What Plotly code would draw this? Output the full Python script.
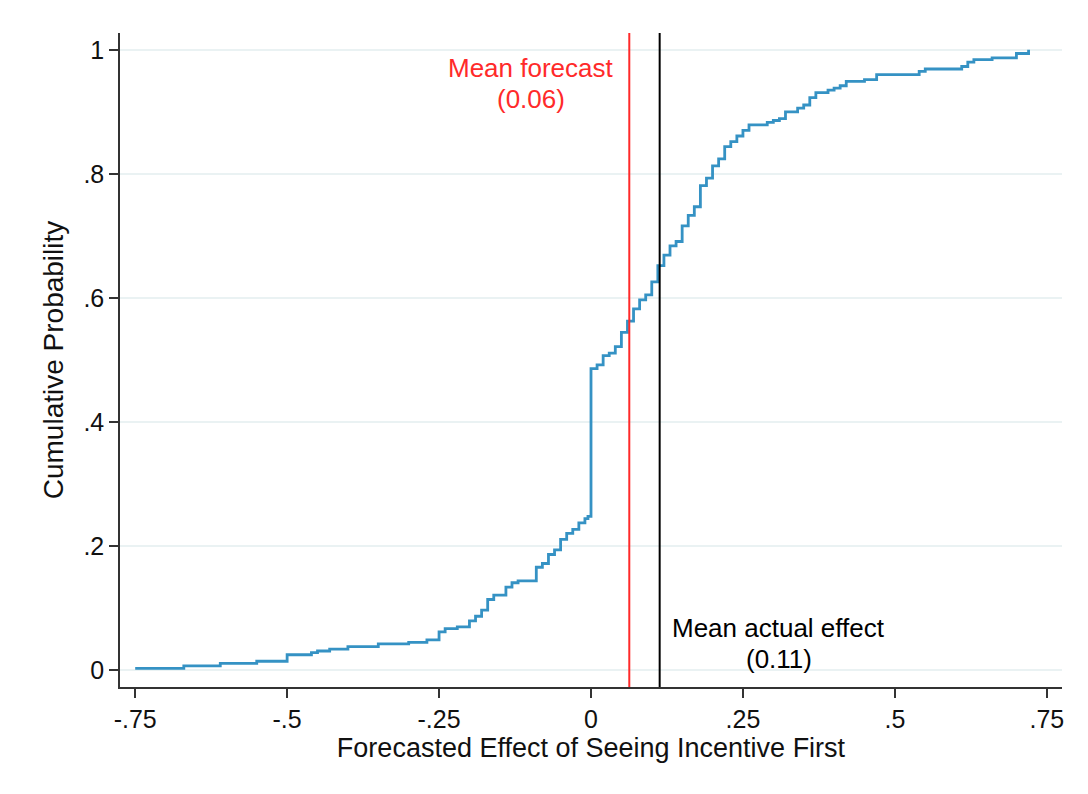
import plotly.graph_objects as go

# ECDF of forecasted effects
forecast_x = [-0.75, -0.67, -0.61, -0.55, -0.50, -0.46, -0.45, -0.43, -0.40, -0.35,
              -0.30, -0.27, -0.25, -0.24, -0.22, -0.20, -0.19, -0.18, -0.17, -0.16,
              -0.14, -0.13, -0.12, -0.09, -0.08, -0.07, -0.06, -0.05, -0.04, -0.03,
              -0.02, -0.01, -0.005, 0.00, 0.01, 0.02, 0.03, 0.04, 0.05, 0.06,
              0.07, 0.08, 0.09, 0.10, 0.11, 0.12, 0.13, 0.14, 0.15, 0.16,
              0.17, 0.18, 0.19, 0.20, 0.21, 0.22, 0.23, 0.24, 0.25, 0.26,
              0.29, 0.30, 0.31, 0.32, 0.34, 0.35, 0.36, 0.37, 0.39, 0.40,
              0.41, 0.42, 0.45, 0.47, 0.54, 0.55, 0.61, 0.62, 0.63, 0.66,
              0.70, 0.72]
cum_prob = [0.003, 0.007, 0.011, 0.0145, 0.025, 0.0285, 0.031, 0.034, 0.038, 0.0425,
            0.045, 0.049, 0.062, 0.067, 0.070, 0.0795, 0.087, 0.097, 0.114, 0.121,
            0.134, 0.141, 0.144, 0.166, 0.172, 0.1865, 0.194, 0.211, 0.2205, 0.227,
            0.2375, 0.2445, 0.248, 0.486, 0.492, 0.507, 0.511, 0.5215, 0.5445, 0.5625,
            0.5825, 0.597, 0.605, 0.626, 0.652, 0.669, 0.684, 0.691, 0.716, 0.733,
            0.747, 0.781, 0.793, 0.813, 0.824, 0.844, 0.852, 0.861, 0.870, 0.879,
            0.883, 0.886, 0.889, 0.900, 0.906, 0.911, 0.923, 0.931, 0.935, 0.938,
            0.942, 0.949, 0.952, 0.960, 0.965, 0.969, 0.973, 0.980, 0.984, 0.987,
            0.994, 1.000]

mean_forecast = 0.063
mean_actual = 0.113

x_tickvals = [-0.75, -0.5, -0.25, 0, 0.25, 0.5, 0.75]
x_ticktext = ["-.75", "-.5", "-.25", "0", ".25", ".5", ".75"]
y_tickvals = [0, 0.2, 0.4, 0.6, 0.8, 1]
y_ticktext = ["0", ".2", ".4", ".6", ".8", "1"]

FONT = "Liberation Sans, Arial, Helvetica, sans-serif"
XR = [-0.775, 0.775]
YR = [-0.027, 1.027]
RED = "#FF2A2A"
TXT = "#111111"

fig = go.Figure()

fig.add_trace(go.Scatter(
    x=forecast_x, y=cum_prob, mode="lines",
    line=dict(color="#3592C4", width=2.8, shape="hv"),
    showlegend=False, hoverinfo="skip"))

fig.add_trace(go.Scatter(
    x=[mean_forecast, mean_forecast], y=YR, mode="lines",
    line=dict(color=RED, width=2), showlegend=False, hoverinfo="skip"))
fig.add_trace(go.Scatter(
    x=[mean_actual, mean_actual], y=YR, mode="lines",
    line=dict(color="#000000", width=2), showlegend=False, hoverinfo="skip"))

ann_font = 26
common = dict(xref="x", yref="y", showarrow=False, borderpad=0)
fig.add_annotation(x=-0.099, y=0.970, text="Mean forecast",
                   font=dict(family=FONT, size=ann_font, color=RED), **common)
fig.add_annotation(x=-0.099, y=0.920, text=f"({mean_forecast:.2f})",
                   font=dict(family=FONT, size=ann_font, color=RED), **common)
fig.add_annotation(x=0.309, y=0.068, text="Mean actual effect",
                   font=dict(family=FONT, size=ann_font, color="#000000"), **common)
fig.add_annotation(x=0.309, y=0.018, text=f"({mean_actual:.2f})",
                   font=dict(family=FONT, size=ann_font, color="#000000"), **common)

fig.update_layout(
    width=1088, height=794,
    margin=dict(l=112, r=34, t=25, b=115),
    paper_bgcolor="white", plot_bgcolor="white",
    font=dict(family=FONT, size=25, color=TXT),
    xaxis=dict(
        range=XR, tickmode="array", tickvals=x_tickvals, ticktext=x_ticktext,
        showgrid=False, zeroline=False, showline=True, linecolor="#333333", linewidth=1.5,
        ticks="outside", ticklen=9, tickwidth=1.5, tickcolor="#333333",
        tickfont=dict(family=FONT, size=25, color=TXT),
        title=dict(text="Forecasted Effect of Seeing Incentive First",
                   font=dict(family=FONT, size=27, color=TXT), standoff=4),
    ),
    yaxis=dict(
        range=YR, tickmode="array", tickvals=y_tickvals, ticktext=y_ticktext,
        showgrid=True, gridcolor="#EAF2F3", gridwidth=1.5,
        zeroline=False, showline=True, linecolor="#333333", linewidth=1.5,
        ticks="outside", ticklen=9, tickwidth=1.5, tickcolor="#333333",
        tickfont=dict(family=FONT, size=25, color=TXT),
        title=dict(text="Cumulative Probability",
                   font=dict(family=FONT, size=28, color=TXT), standoff=12),
    ),
)

fig.write_html("out.html")
